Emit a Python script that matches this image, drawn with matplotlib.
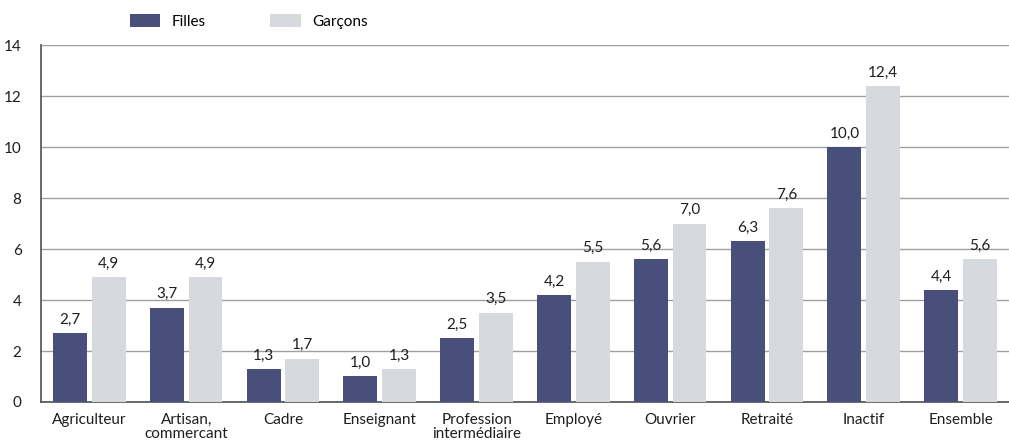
import numpy as np
import matplotlib.pyplot as plt

categories = ['Agriculteur', 'Artisan,\ncommercant', 'Cadre', 'Enseignant',
              'Profession\nintermédiaire', 'Employé', 'Ouvrier', 'Retraité',
              'Inactif', 'Ensemble']
filles = [2.7, 3.7, 1.3, 1.0, 2.5, 4.2, 5.6, 6.3, 10.0, 4.4]
garcons = [4.9, 4.9, 1.7, 1.3, 3.5, 5.5, 7.0, 7.6, 12.4, 5.6]

c_f = '#474f7a'
c_g = '#d6d9de'

plt.rcParams['font.family'] = ['Lato', 'DejaVu Sans']
plt.rcParams['font.size'] = 11

fig = plt.figure(figsize=(10.09, 4.44), dpi=100)
ax = fig.add_axes([0.0406, 0.0946, 0.9594, 0.804])

x = np.arange(len(categories))
w = 0.35
b1 = ax.bar(x - 0.2, filles, w, color=c_f, label='Filles', zorder=3)
b2 = ax.bar(x + 0.2, garcons, w, color=c_g, label='Garçons', zorder=3)

for bars, vals in ((b1, filles), (b2, garcons)):
    for r, v in zip(bars, vals):
        ax.text(r.get_x() + r.get_width() / 2, v + 0.25, f'{v:.1f}'.replace('.', ','),
                ha='center', va='bottom', fontsize=11, color='#1e1e1e')

ax.set_xlim(-0.5, 9.5)
ax.set_ylim(0, 14)
ax.set_yticks(range(0, 15, 2))
ax.set_xticks(x)
ax.set_xticklabels(categories, linespacing=1.0)
ax.yaxis.grid(True, color='#a0a0a0', lw=1, zorder=0)
ax.tick_params(axis='both', length=0, colors='#1e1e1e', labelsize=11)
ax.tick_params(axis='y', pad=14)
ax.tick_params(axis='x', pad=8)
for s in ['top', 'right']:
    ax.spines[s].set_visible(False)
ax.spines['left'].set_color('#505050')
ax.spines['bottom'].set_color('#505050')
ax.spines['left'].set_linewidth(1.2)
ax.spines['bottom'].set_linewidth(1.2)

fig.legend(loc='upper left', bbox_to_anchor=(0.115, 1.0), ncol=2, frameon=False,
           handlelength=2.0, handleheight=1.0, columnspacing=4.2, handletextpad=0.75,
           fontsize=11)

fig.savefig('out.png', dpi=100)
